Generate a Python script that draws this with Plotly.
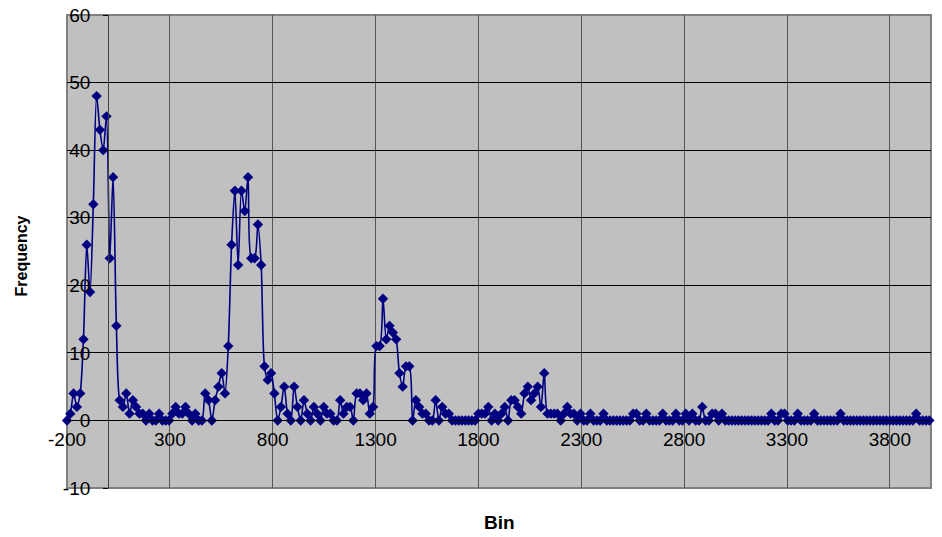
import plotly.graph_objects as go

# Histogram bins: start value and width of each bin
BIN_START = -200
BIN_WIDTH = 16

# Frequency per bin
freq_peak1 = [0, 1, 4, 2, 4, 12, 26, 19, 32, 48, 43, 40, 45, 24, 36, 14, 3, 2, 4, 1, 3]
freq_gap1 = [2, 1, 1, 0, 1, 0, 0, 1, 0, 0,
             0, 1, 2, 1, 1, 2, 1, 0, 1, 0,
             0, 4, 3, 0, 3, 5, 7, 4, 11]
freq_peak2 = [26, 34, 23, 34, 31, 36, 24, 24, 29, 23, 8, 6, 7, 4, 0]
freq_gap2 = [2, 5, 1, 0, 5, 2, 0, 3, 1, 0,
             2, 1, 0, 2, 1, 1, 0, 0, 3, 1,
             2, 2, 0, 4, 4, 3, 4, 1, 2]
freq_peak3 = [11, 11, 18, 12, 14, 13, 12, 7, 5, 8,
              8, 0, 3, 2, 1, 1, 0, 0, 3, 0,
              2, 1, 1]
freq_gap3 = [0, 0, 0, 0, 0, 0, 0, 0]
freq_peak4 = [1, 1, 1, 2, 0, 1, 0, 1, 2, 0,
              3, 3, 2, 1, 4, 5, 3, 4, 5, 2,
              7, 1, 1, 1, 1, 0]
freq_tail = [1, 2, 1, 1, 0, 1, 0, 0, 1, 0,
             0, 0, 1, 0, 0, 0, 0, 0, 0, 0,
             0, 1, 1, 0, 0, 1, 0, 0, 0, 0,
             1, 0, 0, 0, 1, 0, 0, 1, 0, 1,
             0, 0, 2, 0, 0, 1, 1, 0, 1, 0,
             0, 0, 0, 0, 0, 0, 0, 0, 0, 0, 0, 0, 0,
             1, 0, 0, 1, 1, 0, 0, 0, 1, 0,
             0, 0, 0, 1,
             0, 0, 0, 0, 0, 0, 0,
             1,
             0, 0, 0, 0, 0, 0, 0, 0, 0, 0, 0, 0, 0, 0, 0, 0, 0, 0, 0, 0, 0, 0,
             1,
             0, 0, 0, 0]

frequency = (freq_peak1 + freq_gap1 + freq_peak2 + freq_gap2 + freq_peak3
             + freq_gap3 + freq_peak4 + freq_tail)
bins = [BIN_START + BIN_WIDTH * i for i in range(len(frequency))]

# Axis ticks and their labels (plain hyphen for negatives)
x_tickvals = [-200, 300, 800, 1300, 1800, 2300, 2800, 3300, 3800]
x_ticktext = ["-200", "300", "800", "1300", "1800", "2300", "2800", "3300", "3800"]
y_tickvals = [-10, 0, 10, 20, 30, 40, 50, 60]
y_ticktext = ["-10", "0", "10", "20", "30", "40", "50", "60"]

X_RANGE = [-200, 4000]
Y_RANGE = [-10, 60]

NAVY = "#000080"
FONT = "Liberation Sans, Arial, sans-serif"

fig = go.Figure()
fig.add_trace(go.Scatter(
    x=bins,
    y=frequency,
    mode="lines+markers",
    line=dict(color=NAVY, width=1.6, shape="spline", smoothing=0.8),
    marker=dict(symbol="diamond", size=8, color=NAVY),
    cliponaxis=False,
    showlegend=False,
    hoverinfo="x+y",
))

# axes cross at the origin
x_cross = (0 - Y_RANGE[0]) / (Y_RANGE[1] - Y_RANGE[0])
y_cross = (0 - X_RANGE[0]) / (X_RANGE[1] - X_RANGE[0])

fig.update_layout(
    width=942,
    height=537,
    margin=dict(l=67, r=11, t=15, b=49),
    paper_bgcolor="white",
    plot_bgcolor="#C0C0C0",
    font=dict(family=FONT, size=19, color="black"),
    xaxis=dict(
        range=X_RANGE,
        tickmode="array",
        tickvals=x_tickvals,
        ticktext=x_ticktext,
        showgrid=True,
        gridcolor="#555555",
        gridwidth=1,
        zeroline=False,
        showline=True,
        linecolor="black",
        linewidth=1,
        anchor="free",
        position=x_cross,
        ticks="",
        tickfont=dict(size=19, family=FONT),
        ticklabelstandoff=2,
        automargin=False,
    ),
    yaxis=dict(
        range=Y_RANGE,
        tickmode="array",
        tickvals=y_tickvals,
        ticktext=y_ticktext,
        showgrid=True,
        gridcolor="black",
        gridwidth=1,
        zeroline=False,
        showline=True,
        linecolor="#404040",
        linewidth=1,
        anchor="free",
        position=y_cross,
        ticks="outside",
        ticklen=5,
        tickcolor="black",
        tickfont=dict(size=19, family=FONT),
        ticklabelstandoff=9,
        automargin=False,
    ),
    shapes=[dict(
        type="rect", xref="paper", yref="paper",
        x0=0, x1=1, y0=0, y1=1,
        line=dict(color="#808080", width=2),
        layer="between",
    )],
    annotations=[
        dict(text="<b>Frequency</b>", xref="paper", yref="paper",
             x=-0.053, y=0.49, textangle=-90, showarrow=False,
             font=dict(size=16, family=FONT), xanchor="center", yanchor="middle"),
        dict(text="<b>Bin</b>", xref="paper", yref="paper",
             x=0.5, y=-0.072, showarrow=False,
             font=dict(size=19, family=FONT), xanchor="center", yanchor="middle"),
    ],
)

fig.write_html("out.html")
